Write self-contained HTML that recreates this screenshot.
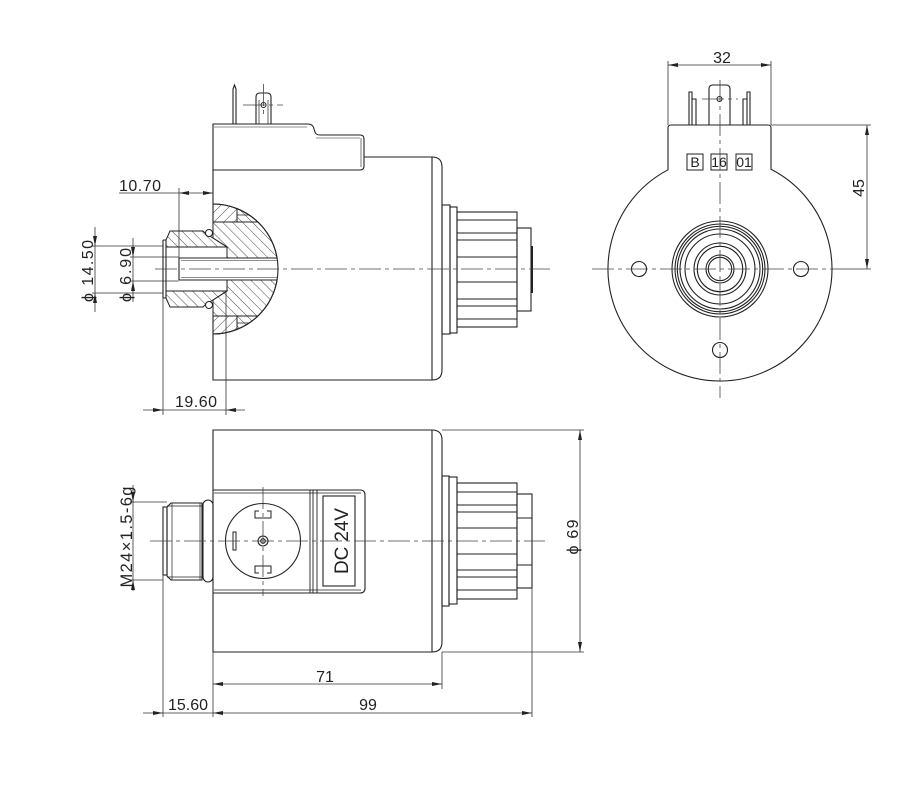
<!DOCTYPE html>
<html><head><meta charset="utf-8"><style>html,body{margin:0;padding:0;background:#fff;}svg{display:block}</style></head>
<body>
<svg width="900" height="800" viewBox="0 0 900 800" xmlns="http://www.w3.org/2000/svg" font-family="'Liberation Sans', 'DejaVu Sans', sans-serif">
<defs>
<pattern id="hb" width="7" height="7" patternUnits="userSpaceOnUse" patternTransform="rotate(-45)"><line x1="0" y1="0" x2="0" y2="7" stroke="#333" stroke-width="0.9"/></pattern>
<pattern id="hf" width="7" height="7" patternUnits="userSpaceOnUse" patternTransform="rotate(45)"><line x1="0" y1="0" x2="0" y2="7" stroke="#333" stroke-width="0.9"/></pattern>
</defs>
<rect width="900" height="800" fill="#fff"/>

<!-- ================= TOP VIEW ================= -->
<g stroke="#222" stroke-width="1">
<path d="M213,222 V204 A65,65 0 0 1 237,208.6 V222 Z" fill="url(#hf)"/>
<path d="M237,222 V208.6 A65,65 0 0 1 257.9,222 Z" fill="url(#hb)"/>
<path d="M213,222 H257.9 A65,65 0 0 1 277.1,258 H227 V247 L213,238 Z" fill="url(#hb)"/>
<path d="M213,316 H257.9 A65,65 0 0 0 277.1,280 H227 V291 L213,300 Z" fill="url(#hb)"/>
<path d="M213,316 V334 A65,65 0 0 0 237,329.4 V316 Z" fill="url(#hf)"/>
<path d="M237,316 V329.4 A65,65 0 0 0 257.9,316 Z" fill="url(#hb)"/>
<path d="M166,240 L170,231 H203 L206,234 L213,238 L227,247 H166 Z" fill="url(#hb)"/>
<path d="M166,298 L170,307 H203 L206,304 L213,300 L227,291 H166 Z" fill="url(#hb)"/>
</g>
<g fill="none" stroke="#222" stroke-width="1.1">
<path d="M213,204 A65,65 0 0 1 213,334"/>
<path d="M237,215 H250 M237,323 H250" stroke-width="0.8"/>
<path d="M163,240 V298 M166,240 V298 M163,240 L166,240 M163,298 L166,298"/>
<path d="M179,258 H277 M179,280 H277 M179,258 V280"/>
<path d="M181,260.5 H277 M181,277.5 H277" stroke-width="0.6"/>
<path d="M213,222 V124 H308 Q313,124 314,129 L315,132 Q316,135 320,135 H360 Q364,135 364,139 V166 Q364,170 360,170 H213"/>
<path d="M214,127 H307 M361,138 V167 M316,138 H360" stroke-width="0.6"/>
<path d="M364,157 H432 Q442,157 442,167 V370 Q442,380 432,380 H213 V316"/>
<line x1="432" y1="157" x2="432" y2="380"/>
<rect x="442" y="205" width="8" height="129"/>
<rect x="450" y="207" width="7" height="126"/>
<rect x="457" y="212" width="60" height="115"/>
<path d="M457,220 H517 M457,233 H517 M457,240 H517 M457,257 H517 M457,282 H517 M457,299 H517 M457,306 H517 M457,319 H517" stroke-width="0.9"/>
<rect x="517" y="228" width="14" height="83"/>
<line x1="532" y1="246" x2="532" y2="293" stroke-width="2"/>
<path d="M233,124 V89 L234.5,85 L236,89 V124"/>
<path d="M256,124 V97 Q256,93 260,93 H267 Q271,93 271,97 V124"/>
<path d="M259,100 V124 M268,100 V124" stroke-width="0.7"/>
<circle cx="263.5" cy="105" r="2.5"/>
</g>
<circle cx="209" cy="233" r="3.5" fill="#fff" stroke="#222" stroke-width="1"/>
<circle cx="209" cy="305" r="3.5" fill="#fff" stroke="#222" stroke-width="1"/>
<g stroke="#444" stroke-width="0.8" fill="none" stroke-dasharray="22,4,4,4">
<line x1="155" y1="269" x2="550" y2="269"/>
<line x1="243" y1="105" x2="283" y2="105"/>
<line x1="263.5" y1="84" x2="263.5" y2="114"/>
</g>

<g stroke="#333" stroke-width="0.8" fill="none">
<line x1="179" y1="188" x2="179" y2="258"/>
<line x1="119" y1="193" x2="213" y2="193"/>
<line x1="95" y1="227" x2="95" y2="312"/>
<line x1="92" y1="246" x2="163" y2="246"/>
<line x1="92" y1="293" x2="163" y2="293"/>
<line x1="133" y1="238" x2="133" y2="302"/>
<line x1="130" y1="257" x2="179" y2="257"/>
<line x1="130" y1="281" x2="179" y2="281"/>
<line x1="163" y1="298" x2="163" y2="415"/>
<line x1="226" y1="291" x2="226" y2="415"/>
<line x1="143" y1="410" x2="245" y2="410"/>
</g>
<g fill="#222">
<polygon points="179,193 189,191 189,195"/>
<polygon points="213,193 203,191 203,195"/>
<polygon points="95,246 93,236 97,236"/>
<polygon points="95,293 93,303 97,303"/>
<polygon points="133,257 131,247 135,247"/>
<polygon points="133,281 131,291 135,291"/>
<polygon points="163,410 153,408 153,412"/>
<polygon points="226,410 236,408 236,412"/>
</g>
<g fill="#222" font-size="16">
<text x="119" y="191" textLength="42">10.70</text>
<text x="175" y="407" textLength="42">19.60</text>
<text transform="rotate(-90 93 271)" x="93" y="271" text-anchor="middle" textLength="62">ϕ 14.50</text>
<text transform="rotate(-90 131 275)" x="131" y="275" text-anchor="middle" textLength="54">ϕ 6.90</text>
</g>

<!-- ================= RIGHT VIEW ================= -->
<g fill="none" stroke="#222" stroke-width="1.1">
<path d="M668,169.8 V128 Q668,125 671,125 H768 Q771,125 771,128 V169.3 A112,112 0 1 1 668,169.8 Z"/>
<path d="M689,125 V92 H692 V125 M692,99 H696 V125"/>
<path d="M750,125 V92 H747 V125 M747,99 H743 V125"/>
<path d="M709,125 V89 Q709,85 713,85 H726 Q730,85 730,89 V125"/>
<circle cx="719.5" cy="99" r="2.5"/>
<circle cx="720" cy="269" r="48"/>
<circle cx="720" cy="269" r="45"/>
<circle cx="720" cy="269" r="42.7"/>
<circle cx="720" cy="269" r="40"/>
<circle cx="720" cy="269" r="35"/>
<circle cx="720" cy="269" r="26"/>
<circle cx="720" cy="269" r="22.7"/>
<circle cx="720" cy="269" r="14"/>
<circle cx="720" cy="269" r="11.7"/>
<circle cx="639" cy="269" r="7.5"/>
<circle cx="801" cy="269" r="7.5"/>
<circle cx="720" cy="350" r="7.5"/>
<rect x="687" y="154" width="16" height="16" stroke-width="1"/>
<rect x="711" y="154" width="16" height="16" stroke-width="1"/>
<rect x="736" y="154" width="16" height="16" stroke-width="1"/>
</g>
<g stroke="#444" stroke-width="0.8" fill="none" stroke-dasharray="22,4,4,4">
<line x1="592" y1="269" x2="832" y2="269"/>
<line x1="720" y1="80" x2="720" y2="398"/>
<line x1="702" y1="99" x2="738" y2="99"/>
</g>
<g fill="#222" font-size="14" text-anchor="middle">
<text x="695" y="167">B</text>
<text x="719" y="167">16</text>
<text x="744" y="167">01</text>
</g>
<g stroke="#333" stroke-width="0.8" fill="none">
<line x1="668" y1="61" x2="668" y2="125"/>
<line x1="771" y1="61" x2="771" y2="125"/>
<line x1="668" y1="65" x2="771" y2="65"/>
<line x1="771" y1="125" x2="871" y2="125"/>
<line x1="832" y1="269" x2="871" y2="269"/>
<line x1="867" y1="125" x2="867" y2="269"/>
</g>
<g fill="#222">
<polygon points="668,65 678,63 678,67"/>
<polygon points="771,65 761,63 761,67"/>
<polygon points="867,125 865,135 869,135"/>
<polygon points="867,269 865,259 869,259"/>
</g>
<g fill="#222" font-size="16">
<text x="722" y="63" text-anchor="middle">32</text>
<text transform="rotate(-90 864 188)" x="864" y="188" text-anchor="middle">45</text>
</g>

<!-- ================= BOTTOM VIEW ================= -->
<g fill="none" stroke="#222" stroke-width="1.1">
<path d="M213,430 H432 Q442,430 442,440 V642 Q442,652 432,652 H213 Z"/>
<line x1="432" y1="430" x2="432" y2="652"/>
<path d="M213,490 H360 Q365,490 365,495 V588 Q365,593 360,593 H213"/>
<path d="M214,493 H361 M214,590 H361" stroke-width="0.7"/>
<path d="M310,490 V593 M313,490 V593 M317,490 V593" stroke-width="0.9"/>
<rect x="323" y="496" width="32" height="90"/>
<circle cx="263" cy="541" r="37.5"/>
<circle cx="263" cy="541" r="5"/>
<circle cx="263" cy="541" r="2.3"/>
<path d="M259,511 H255 V518 H271 V511 H267" stroke-width="1"/>
<path d="M259,573 H255 V566 H271 V573 H267" stroke-width="1"/>
<rect x="233" y="532" width="3" height="18" stroke-width="1"/>
<rect x="163" y="507" width="4" height="68"/>
<path d="M171,503 H202 V580 H171 L167,576 V507 Z"/>
<path d="M172,503 V580 M200,503 V580 M167,506 H202 M167,577 H202" stroke-width="0.7"/>
<rect x="203" y="500" width="10" height="82" rx="5"/>
<rect x="442" y="476" width="7" height="130"/>
<rect x="449" y="477" width="8" height="127"/>
<rect x="457" y="483" width="60" height="116"/>
<path d="M457,492 H517 M457,505 H517 M457,512 H517 M457,528 H517 M457,554 H517 M457,570 H517 M457,577 H517 M457,590 H517" stroke-width="0.9"/>
<rect x="517" y="494" width="15" height="94"/>
<path d="M517,518 H532 M517,565 H532" stroke-width="0.9"/>
</g>
<g stroke="#444" stroke-width="0.8" fill="none" stroke-dasharray="22,4,4,4">
<line x1="150" y1="541" x2="545" y2="541"/>
<line x1="263" y1="487" x2="263" y2="596"/>
</g>
<g stroke="#333" stroke-width="0.8" fill="none">
<line x1="133" y1="485" x2="133" y2="591"/>
<line x1="130" y1="502" x2="167" y2="502"/>
<line x1="130" y1="580" x2="163" y2="580"/>
<line x1="442" y1="430" x2="584" y2="430"/>
<line x1="442" y1="652" x2="584" y2="652"/>
<line x1="580" y1="430" x2="580" y2="652"/>
<line x1="442" y1="652" x2="442" y2="689"/>
<line x1="213" y1="652" x2="213" y2="717"/>
<line x1="532" y1="588" x2="532" y2="717"/>
<line x1="163" y1="575" x2="163" y2="717"/>
<line x1="213" y1="684" x2="442" y2="684"/>
<line x1="143" y1="713" x2="532" y2="713"/>
</g>
<g fill="#222">
<polygon points="133,502 131,492 135,492"/>
<polygon points="133,580 131,590 135,590"/>
<polygon points="580,430 578,440 582,440"/>
<polygon points="580,652 578,642 582,642"/>
<polygon points="213,684 223,682 223,686"/>
<polygon points="442,684 432,682 432,686"/>
<polygon points="213,713 223,711 223,715"/>
<polygon points="532,713 522,711 522,715"/>
<polygon points="163,713 153,711 153,715"/>
</g>
<g fill="#222" font-size="16">
<text x="325" y="682" text-anchor="middle">71</text>
<text x="368" y="710" text-anchor="middle">99</text>
<text x="168" y="710" textLength="40">15.60</text>
<text transform="rotate(-90 578 537)" x="578" y="537" text-anchor="middle" textLength="35">ϕ 69</text>
<text transform="rotate(-90 132 537)" x="132" y="537" text-anchor="middle" font-size="16.5" textLength="101">M24×1.5-6g</text>
<text transform="rotate(-90 348 541)" x="348" y="541" text-anchor="middle" font-size="19" textLength="66">DC 24V</text>
</g>
</svg>
</body></html>
